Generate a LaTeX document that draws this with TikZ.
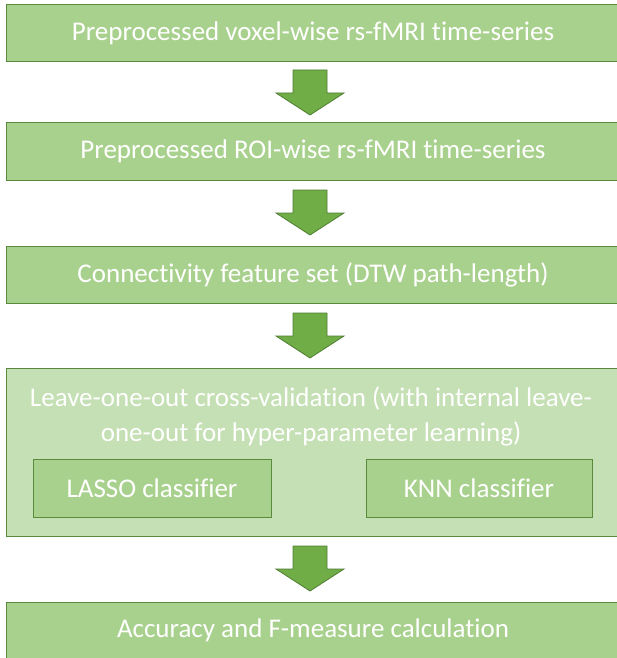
\documentclass[tikz,border=0pt]{standalone}
\usepackage{fontspec}
\setmainfont[Ligatures=NoCommon]{Carlito}
\definecolor{boxfill}{HTML}{A9D18E}
\definecolor{boxline}{HTML}{5A8A3C}
\definecolor{outerfill}{HTML}{C5E0B4}
\definecolor{arrowfill}{HTML}{70AD47}
\definecolor{arrowline}{HTML}{507E32}
\tikzset{
  boxstyle/.style={draw=boxline, line width=1pt, fill=boxfill, text=white,
    inner sep=0pt, font=\fontsize{27}{35}\selectfont, align=center},
  outerstyle/.style={draw=boxline, line width=1pt, fill=outerfill, inner sep=0pt},
  textstyle/.style={text=white, inner sep=0pt, font=\fontsize{27}{35}\selectfont, align=center},
  barrow/.style={draw=arrowline, line width=0.8pt, fill=arrowfill}
}
\newcommand\blockarrow[1]{%
  \draw[barrow] (#1) ++(-17,0) -- ++(34,0) -- ++(0,23) -- ++(17,0)
    -- ++(-34,22) -- ++(-34,-22) -- ++(17,0) -- cycle;}
\begin{document}
\begin{tikzpicture}[x=1pt,y=-1pt]
\useasboundingbox (0,0) rectangle (616,658);
\node[boxstyle, minimum width=614pt, minimum height=57pt] (b1) at (313,33.5)
  {Preprocessed voxel-wise rs-fMRI time-series};
\node[boxstyle, minimum width=614pt, minimum height=57pt] (b2) at (313,151.5)
  {Preprocessed ROI-wise rs-fMRI time-series};
\node[boxstyle, minimum width=614pt, minimum height=57pt] (b3) at (313,274.5)
  {Connectivity feature set (DTW path-length)};
\node[outerstyle, minimum width=614pt, minimum height=168pt] (b4) at (313,452) {};
\node[textstyle] (t4) at (311,416)
  {Leave-one-out cross-validation (with internal leave-\\one-out for hyper-parameter learning)};
\node[boxstyle, minimum width=238pt, minimum height=58pt] (lasso) at (152,488)
  {LASSO classifier};
\node[boxstyle, minimum width=226pt, minimum height=58pt] (knn) at (479,488)
  {KNN classifier};
\node[boxstyle, minimum width=614pt, minimum height=57pt] (b5) at (313,630.5)
  {Accuracy and F-measure calculation};
\coordinate (a1) at (310,70);
\coordinate (a2) at (310,190);
\coordinate (a3) at (310,313);
\coordinate (a4) at (310,546);
\blockarrow{a1}
\blockarrow{a2}
\blockarrow{a3}
\blockarrow{a4}
\end{tikzpicture}
\end{document}
